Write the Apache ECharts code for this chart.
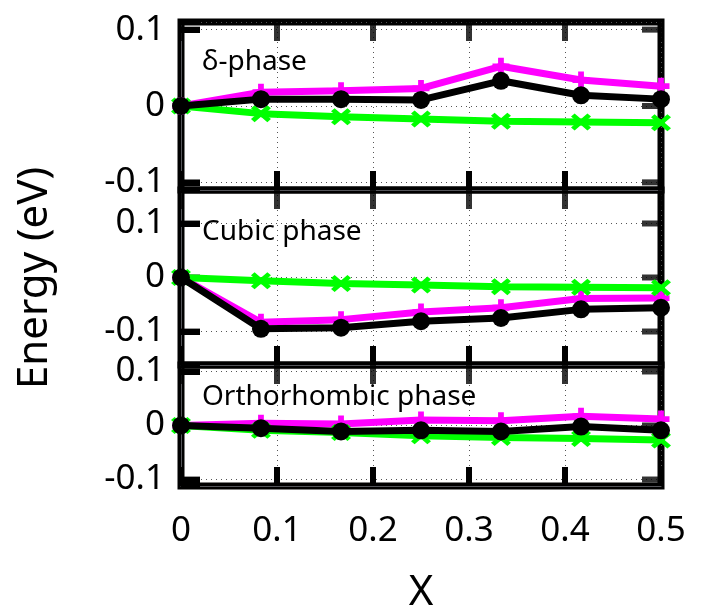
<!DOCTYPE html>
<html>
<head>
<meta charset="utf-8">
<script src="https://cdn.jsdelivr.net/npm/echarts@6/dist/echarts.min.js"></script>
<style>
  html, body { margin: 0; padding: 0; background: #fff; }
  #chart { width: 701px; height: 615px; }
</style>
</head>
<body>
<div id="chart"></div>
<script>
// x positions of the points
var xValues = [0, 0.0833, 0.1667, 0.25, 0.3333, 0.4167, 0.5];
var xTicks = [0, 0.1, 0.2, 0.3, 0.4, 0.5];
var yTicks = [-0.1, 0, 0.1];

// δ-phase
var deltaMagenta = [0, 0.018, 0.020, 0.023, 0.052, 0.034, 0.026];
var deltaBlack   = [0, 0.009, 0.009, 0.008, 0.033, 0.014, 0.009];
var deltaGreen   = [0, -0.010, -0.014, -0.017, -0.020, -0.021, -0.022];
// cubic phase
var cubicMagenta = [0, -0.083, -0.078, -0.064, -0.056, -0.039, -0.038];
var cubicBlack   = [0, -0.095, -0.093, -0.081, -0.075, -0.059, -0.056];
var cubicGreen   = [0, -0.006, -0.011, -0.014, -0.017, -0.018, -0.019];
// orthorhombic phase
var orthoMagenta = [0, 0.004, 0.003, 0.010, 0.009, 0.017, 0.012];
var orthoBlack   = [0, -0.005, -0.011, -0.009, -0.011, -0.002, -0.009];
var orthoGreen   = [0, -0.009, -0.013, -0.019, -0.022, -0.024, -0.027];

var panelNames = ['δ-phase', 'Cubic phase', 'Orthorhombic phase'];
var yLimits = [0.11, 0.162, 0.112];

var FONT = '"Noto Sans", sans-serif';
var plusPath = 'path://M3.3,0H6.7V3.3H10V6.7H6.7V10H3.3V6.7H0V3.3H3.3Z';
var crossPath = 'path://M0,1.8L1.8,0L5,3.2L8.2,0L10,1.8L6.8,5L10,8.2L8.2,10L5,6.8L1.8,10L0,8.2L3.2,5Z';

var panels = [
  {top: 22, height: 168, data: [deltaMagenta, deltaGreen, deltaBlack]},
  {top: 190, height: 175, data: [cubicMagenta, cubicGreen, cubicBlack]},
  {top: 365, height: 135, data: [orthoMagenta, orthoGreen, orthoBlack]}
];
var n = panels.length;
var TICK = 19;

function dotted() {
  return {show: true, lineStyle: {color: '#555', width: 1, type: [1, 4]}};
}
function inTick() {
  return {show: true, inside: true, length: TICK, lineStyle: {width: 6, color: '#000'}};
}
function pairs(ys) {
  return xValues.map(function (x, i) { return [x, ys[i]]; });
}
function yLabel(v) {
  var r = Math.round(v * 10) / 10;
  return Math.abs(v - r) < 0.001 && Math.abs(v) <= 0.1001 ? String(r) : '';
}
// inward tick marks drawn as rect symbols sitting on the frame
function tickSeries(k, data, size, offset) {
  return {
    type: 'scatter', xAxisIndex: k, yAxisIndex: k, data: data,
    symbol: 'rect', symbolSize: size, symbolOffset: offset,
    itemStyle: {color: '#000'}, z: 2, clip: false, silent: true
  };
}

var grids = [], xAxes = [], yAxes = [], series = [];

panels.forEach(function (p, k) {
  var last = k === n - 1;
  var lim = yLimits[k];
  grids.push({left: 181, width: 480, top: p.top, height: p.height, show: true, borderWidth: 7, borderColor: '#000'});
  xAxes.push({
    type: 'value', gridIndex: k, min: 0, max: 0.5, interval: 0.1,
    axisLine: {onZero: false},
    axisTick: inTick(),
    axisLabel: {
      show: last, margin: 28, fontSize: 35, fontFamily: FONT, color: '#000',
      formatter: function (v) { return xTicks.indexOf(+v.toFixed(2)) >= 0 ? String(+v.toFixed(2)) : ''; }
    },
    splitLine: dotted(),
    name: last ? 'X' : '', nameLocation: 'middle', nameGap: 86,
    nameTextStyle: {fontSize: 42, fontFamily: FONT, color: '#000'}
  });
  yAxes.push({
    type: 'value', gridIndex: k, min: -lim, max: lim, splitNumber: k === 1 ? 3 : 2,
    axisLine: {onZero: false},
    axisTick: inTick(),
    axisLabel: {margin: 16, fontSize: 35, fontFamily: FONT, color: '#000', formatter: yLabel},
    splitLine: dotted()
  });

  series.push(tickSeries(k, xTicks.map(function (v) { return [v, -lim]; }), [6, TICK], [0, -TICK / 2]));
  series.push(tickSeries(k, xTicks.map(function (v) { return [v, lim]; }), [6, TICK], [0, TICK / 2]));
  series.push(tickSeries(k, yTicks.map(function (v) { return [0, v]; }), [TICK, 6], [TICK / 2, 0]));
  series.push(tickSeries(k, yTicks.map(function (v) { return [0.5, v]; }), [TICK, 6], [-TICK / 2, 0]));

  var styles = [
    {color: '#ff00ff', symbol: plusPath, size: 17},
    {color: '#00ff00', symbol: crossPath, size: [20, 17]},
    {color: '#000000', symbol: 'circle', size: 18}
  ];
  p.data.forEach(function (ys, j) {
    series.push({
      type: 'line', xAxisIndex: k, yAxisIndex: k,
      data: pairs(ys),
      symbol: styles[j].symbol, symbolSize: styles[j].size,
      showAllSymbol: true,
      lineStyle: {color: styles[j].color, width: 7},
      itemStyle: {color: styles[j].color, borderWidth: 0},
      z: 3 + j, clip: false
    });
  });
});

var titleTops = [62, 232, 397];
var graphics = panelNames.map(function (name, k) {
  return {
    type: 'text', x: 202, y: titleTops[k], z: 10,
    style: {text: name, font: '28px ' + FONT, fill: '#000', align: 'left', verticalAlign: 'middle'}
  };
});
graphics.push({
  type: 'text', x: 35, y: 278, rotation: Math.PI / 2, z: 10,
  style: {text: 'Energy (eV)', font: '42px ' + FONT, fill: '#000', align: 'center', verticalAlign: 'middle'}
});

var chart = echarts.init(document.getElementById('chart'));
chart.setOption({
  grid: grids,
  xAxis: xAxes,
  yAxis: yAxes,
  series: series,
  graphic: graphics
});
</script>
</body>
</html>
